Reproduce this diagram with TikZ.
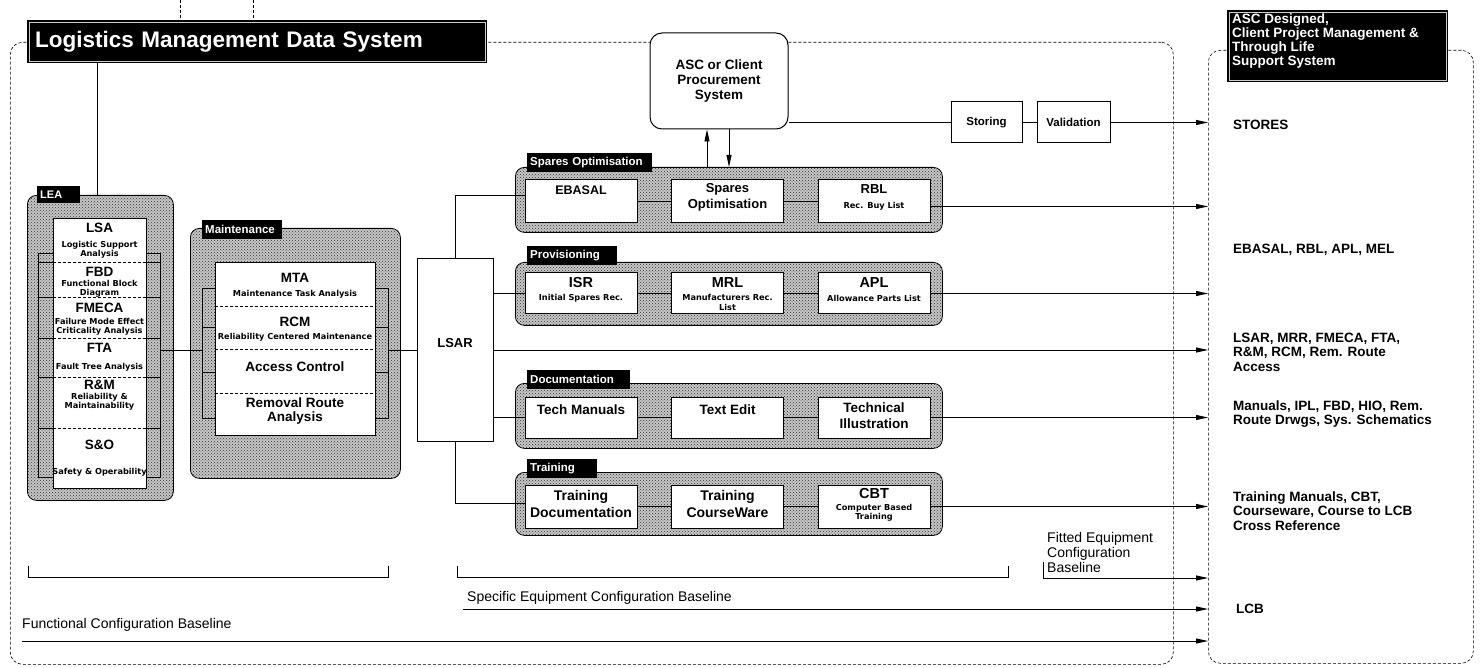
\documentclass[tikz,border=0pt]{standalone}
\usepackage{fontspec}
\setmainfont{Liberation Sans}
\newfontfamily\tinyf{DejaVu Sans}
\usetikzlibrary{arrows.meta,patterns}
\newcommand\myfs[2]{\fontsize{#1}{#2}\selectfont}
\begin{document}
\begin{tikzpicture}[x=1pt,y=-1pt,
  grp/.style={draw, line width=0.8pt, rounded corners=9pt, preaction={fill=gray!45}, pattern=crosshatch dots, pattern color=black!80, inner sep=0pt, anchor=north west},
  tabx/.style={fill=black, text=white, font=\bfseries\myfs{11.5}{13}, inner xsep=3pt, inner ysep=0pt, minimum height=19pt, text width=#1, align=left, anchor=north west},
  strip/.style={draw, line width=0.7pt, inner sep=0pt, anchor=north west},
  ibox/.style={draw, fill=white, line width=1pt, inner sep=0pt},
  divl/.style={densely dashed, line width=0.6pt},
  ttl/.style={font=\bfseries\myfs{13.5}{14}, align=center, inner sep=0pt},
  ttlb/.style={font=\bfseries\myfs{14.5}{16}, align=center, inner sep=0pt},
  subt/.style={font=\tinyf\bfseries\myfs{8.2}{9}, align=center, inner sep=0pt},
  conn/.style={line width=0.9pt},
  arr/.style={conn, -{Triangle[length=12pt,width=5pt]}},
  dashb/.style={densely dashed, line width=0.6pt},
  rtext/.style={font=\bfseries\myfs{13.5}{14.5}, align=left, anchor=west, inner sep=0pt},
  btext/.style={font=\myfs{14}{15}, align=left, anchor=west, inner sep=0pt}]
\useasboundingbox (0,0) rectangle (1481,668);

% frames
\node[draw, dashb, rounded corners=12pt, minimum width=1163pt, minimum height=622pt, anchor=north west, inner sep=0pt] (lmdsf) at (10,42) {};
\node[draw, dashb, rounded corners=12pt, minimum width=265pt, minimum height=613pt, anchor=north west, inner sep=0pt] (rbox) at (1208,50) {};
\draw[dashb] (180,0) -- (180,20);
\draw[dashb] (253,0) -- (253,20);

% titles
\node[fill=black, text=white, font=\bfseries\myfs{22.5}{26}, minimum width=460pt, minimum height=43pt, text width=444pt, inner xsep=8pt, inner ysep=0pt, align=left, anchor=north west] (lmds) at (27,20) {Logistics Management Data System};
\draw[white!80!black, line width=0.6pt] ([xshift=2pt,yshift=-2pt]lmds.north west) rectangle ([xshift=-2pt,yshift=2pt]lmds.south east);
\node[fill=black, minimum width=221pt, minimum height=72pt, inner sep=0pt, anchor=north west] (rtitle) at (1227,10) {};
\draw[white!80!black, line width=0.6pt] ([xshift=2pt,yshift=-2pt]rtitle.north west) rectangle ([xshift=-2pt,yshift=2pt]rtitle.south east);
\node[text=white, font=\bfseries\myfs{13.5}{14}, align=left, anchor=north west, inner sep=0pt] (rtitlet) at (1232,13.5) {ASC Designed,\\Client Project Management \&\\Through Life\\Support System};

% LEA group
\node[grp, minimum width=146pt, minimum height=305pt] (leag) at (27,195) {};
\node[tabx=37pt, font=\bfseries\myfs{11}{12}, minimum height=17pt] (leatab) at (37,186) {LEA};
\node[strip, minimum width=15pt, minimum height=224pt] (leaL) at (38,253) {};
\node[strip, minimum width=14pt, minimum height=224pt] (leaR) at (146,253) {};
\foreach \yy in {262,297,338,377,428} {\draw[line width=0.6pt] (38,\yy) -- (53,\yy); \draw[line width=0.6pt] (146,\yy) -- (160,\yy);}
\node[ibox, minimum width=93pt, minimum height=270pt, anchor=north west] (leas) at (53,218) {};
\foreach \yy in {262,297,338,377,428} \draw[divl] (53,\yy) -- (146,\yy);
\node[ttl] (lsa) at (99.5,228) {LSA};
\node[subt] (lsas) at (99.5,250) {Logistic Support\\Analysis};
\node[ttl] (fbd) at (99.5,272) {FBD};
\node[subt] (fbds) at (99.5,289) {Functional Block\\Diagram};
\node[ttl] (fmeca) at (99.5,308) {FMECA};
\node[subt] (fmecas) at (99.5,327) {Failure Mode Effect\\Criticality Analysis};
\node[ttl] (fta) at (99.5,348) {FTA};
\node[subt] (ftas) at (99.5,367) {Fault Tree Analysis};
\node[ttl] (rm) at (99.5,385) {R\&M};
\node[subt] (rms) at (99.5,402) {Reliability \&\\Maintainability};
\node[ttl] (so) at (99.5,445) {S\&O};
\node[subt] (sos) at (99.5,472) {Safety \& Operability};

% Maintenance group
\node[grp, minimum width=210pt, minimum height=250pt] (mntg) at (190,228) {};
\node[tabx=74pt] (mnttab) at (202,220) {Maintenance};
\node[strip, minimum width=13pt, minimum height=130pt] (mntL) at (202,288) {};
\node[strip, minimum width=13pt, minimum height=130pt] (mntR) at (375,288) {};
\foreach \yy in {327,372} {\draw[line width=0.6pt] (202,\yy) -- (215,\yy); \draw[line width=0.6pt] (375,\yy) -- (388,\yy);}
\node[ibox, minimum width=160pt, minimum height=173pt, anchor=north west] (mnts) at (215,262) {};
\foreach \yy in {306,349,393} \draw[divl] (215,\yy) -- (375,\yy);
\node[ttl] (mta) at (295,278) {MTA};
\node[subt] (mtas) at (295,294) {Maintenance Task Analysis};
\node[ttl] (rcm) at (295,322) {RCM};
\node[subt] (rcms) at (295,337) {Reliability Centered Maintenance};
\node[ttl] (acc) at (295,367) {Access Control};
\node[ttl] (rra) at (295,411) {Removal Route\\Analysis};

% LSAR
\node[ibox, minimum width=76pt, minimum height=182pt] (lsar) at (455,350) {};
\node[ttl, font=\bfseries\myfs{13}{14}] (lsart) at (455,343) {LSAR};

% ASC, storing, validation
\node[draw, fill=white, line width=1pt, rounded corners=12pt, minimum width=138pt, minimum height=96pt, inner sep=0pt, align=center, font=\bfseries\myfs{13.5}{15}] (asc) at (719,81) {ASC or Client\\Procurement\\System};
\node[ibox, minimum width=71pt, minimum height=41pt, font=\bfseries\myfs{11.5}{13}] (stor) at (986.5,122.5) {Storing};
\node[ibox, minimum width=73pt, minimum height=41pt, font=\bfseries\myfs{11.5}{13}] (valid) at (1073.5,122.5) {Validation};

% groups
\node[grp, minimum width=427pt, minimum height=65pt] (spg) at (515,167) {};
\node[tabx=119pt] (sptab) at (527,153) {Spares Optimisation};
\node[grp, minimum width=427pt, minimum height=63pt] (prg) at (515,262) {};
\node[tabx=84pt] (prtab) at (527,246) {Provisioning};
\node[grp, minimum width=427pt, minimum height=65pt] (dcg) at (515,383) {};
\node[tabx=97pt] (dctab) at (527,370) {Documentation};
\node[grp, minimum width=427pt, minimum height=63pt] (trg) at (515,472) {};
\node[tabx=64pt] (trtab) at (527,459) {Training};

% inner boxes
\foreach \nm/\xx in {ebasal/581,spo/727.5,rbl/874} \node[ibox, minimum width=112pt, minimum height=43pt] (\nm) at (\xx,201.5) {};
\foreach \nm/\xx in {isr/581,mrl/727.5,apl/874} \node[ibox, minimum width=112pt, minimum height=41pt] (\nm) at (\xx,293.5) {};
\foreach \nm/\xx in {tman/581,tedit/727.5,till/874} \node[ibox, minimum width=112pt, minimum height=41pt] (\nm) at (\xx,417.5) {};
\foreach \nm/\xx in {tdoc/581,tcw/727.5,cbt/874} \node[ibox, minimum width=112pt, minimum height=43pt] (\nm) at (\xx,506.5) {};

\node[ttl, font=\bfseries\myfs{12.5}{14}] (ebasalt) at (581,190) {EBASAL};
\node[ttl, font=\bfseries\myfs{13}{16}] (spot) at (727.5,197) {Spares\\Optimisation};
\node[ttl, font=\bfseries\myfs{13}{14}] (rblt) at (874,189) {RBL};
\node[subt] (rbls) at (874,206) {Rec. Buy List};
\node[ttlb] (isrt) at (581,283) {ISR};
\node[subt] (isrs) at (581,298) {Initial Spares Rec.};
\node[ttlb] (mrlt) at (727.5,283) {MRL};
\node[subt, font=\tinyf\bfseries\myfs{8.2}{10}] (mrls) at (727.5,302) {Manufacturers Rec.\\List};
\node[ttlb] (aplt) at (874,283) {APL};
\node[subt] (apls) at (874,298) {Allowance Parts List};
\node[ttl] (tmant) at (581,410) {Tech Manuals};
\node[ttl] (teditt) at (727.5,410) {Text Edit};
\node[ttl, font=\bfseries\myfs{13.5}{16}] (tillt) at (874,416) {Technical\\Illustration};
\node[ttl, font=\bfseries\myfs{14}{17}] (tdoct) at (581,504) {Training\\Documentation};
\node[ttl, font=\bfseries\myfs{14}{17}] (tcwt) at (727.5,504) {Training\\CourseWare};
\node[ttlb] (cbtt) at (874,494) {CBT};
\node[subt] (cbts) at (874,513) {Computer Based\\Training};

% connectors
\draw[conn] (lmds.south -| 97,0) -- (leag.north -| 97,0);
\draw[conn] (leaR.east |- lsar.west) -- (mntL.west |- lsar.west);
\draw[conn] (mntR.east |- lsar.west) -- (lsar.west);
\draw[conn] (lsar.north) |- ([yshift=6pt]ebasal.west);
\draw[conn] (ebasal) -- (spo);
\draw[conn] (spo) -- (rbl);
\draw[arr] ([yshift=-5pt]rbl.east) -- ([yshift=-5pt]rbl.east -| rbox.west);
\draw[conn] (lsar.east |- isr.west) -- (isr.west);
\draw[conn] (isr) -- (mrl);
\draw[conn] (mrl) -- (apl);
\draw[arr] (apl.east) -- (apl.east -| rbox.west);
\draw[arr] (lsar.east) -- (lsar.east -| rbox.west);
\draw[conn] (lsar.east |- tman.west) -- (tman.west);
\draw[conn] (tman) -- (tedit);
\draw[conn] (tedit) -- (till);
\draw[arr] (till.east) -- (till.east -| rbox.west);
\draw[conn] (lsar.south) |- ([yshift=3pt]tdoc.west);
\draw[conn] (tdoc) -- (tcw);
\draw[conn] (tcw) -- (cbt);
\draw[arr] (cbt.east) -- (cbt.east -| rbox.west);
\draw[arr] (spg.north -| 707,0) -- (asc.south -| 707,0);
\draw[arr] (asc.south -| 729,0) -- (spg.north -| 729,0);
\draw[conn] (asc.east |- stor.west) -- (stor.west);
\draw[conn] (stor) -- (valid);
\draw[arr] (valid.east) -- (valid.east -| rbox.west);

% baselines
\draw[conn] (28,566) |- (388,577) -- (388,566);
\draw[conn] (457,566) |- (1008,577) -- (1008,566);
\coordinate (fitS) at (1043,562);
\coordinate (fitE) at (1208,578);
\draw[arr] (fitS) |- (fitE);
\coordinate (speS) at (463,609);
\coordinate (speE) at (1208,609);
\draw[arr] (speS) -- (speE);
\coordinate (funS) at (22,641);
\coordinate (funE) at (1208,641);
\draw[arr] (funS) -- (funE);
\node[btext] (funt) at (22,625) {Functional Configuration Baseline};
\node[btext] (spet) at (467,598) {Specific Equipment Configuration Baseline};
\node[btext] (fitt) at (1047,552) {Fitted Equipment\\Configuration\\Baseline};

% right box texts
\node[rtext] (stores) at (1233,125) {STORES};
\node[rtext] (r2) at (1233,250) {EBASAL, RBL, APL, MEL};
\node[rtext] (r3) at (1233,352) {LSAR, MRR, FMECA, FTA,\\R\&M, RCM, Rem. Route\\Access};
\node[rtext] (r4) at (1233,414) {Manuals, IPL, FBD, HIO, Rem.\\Route Drwgs, Sys. Schematics};
\node[rtext] (r5) at (1233,511) {Training Manuals, CBT,\\Courseware, Course to LCB\\Cross Reference};
\node[rtext] (lcb) at (1236,609) {LCB};
\end{tikzpicture}
\end{document}
